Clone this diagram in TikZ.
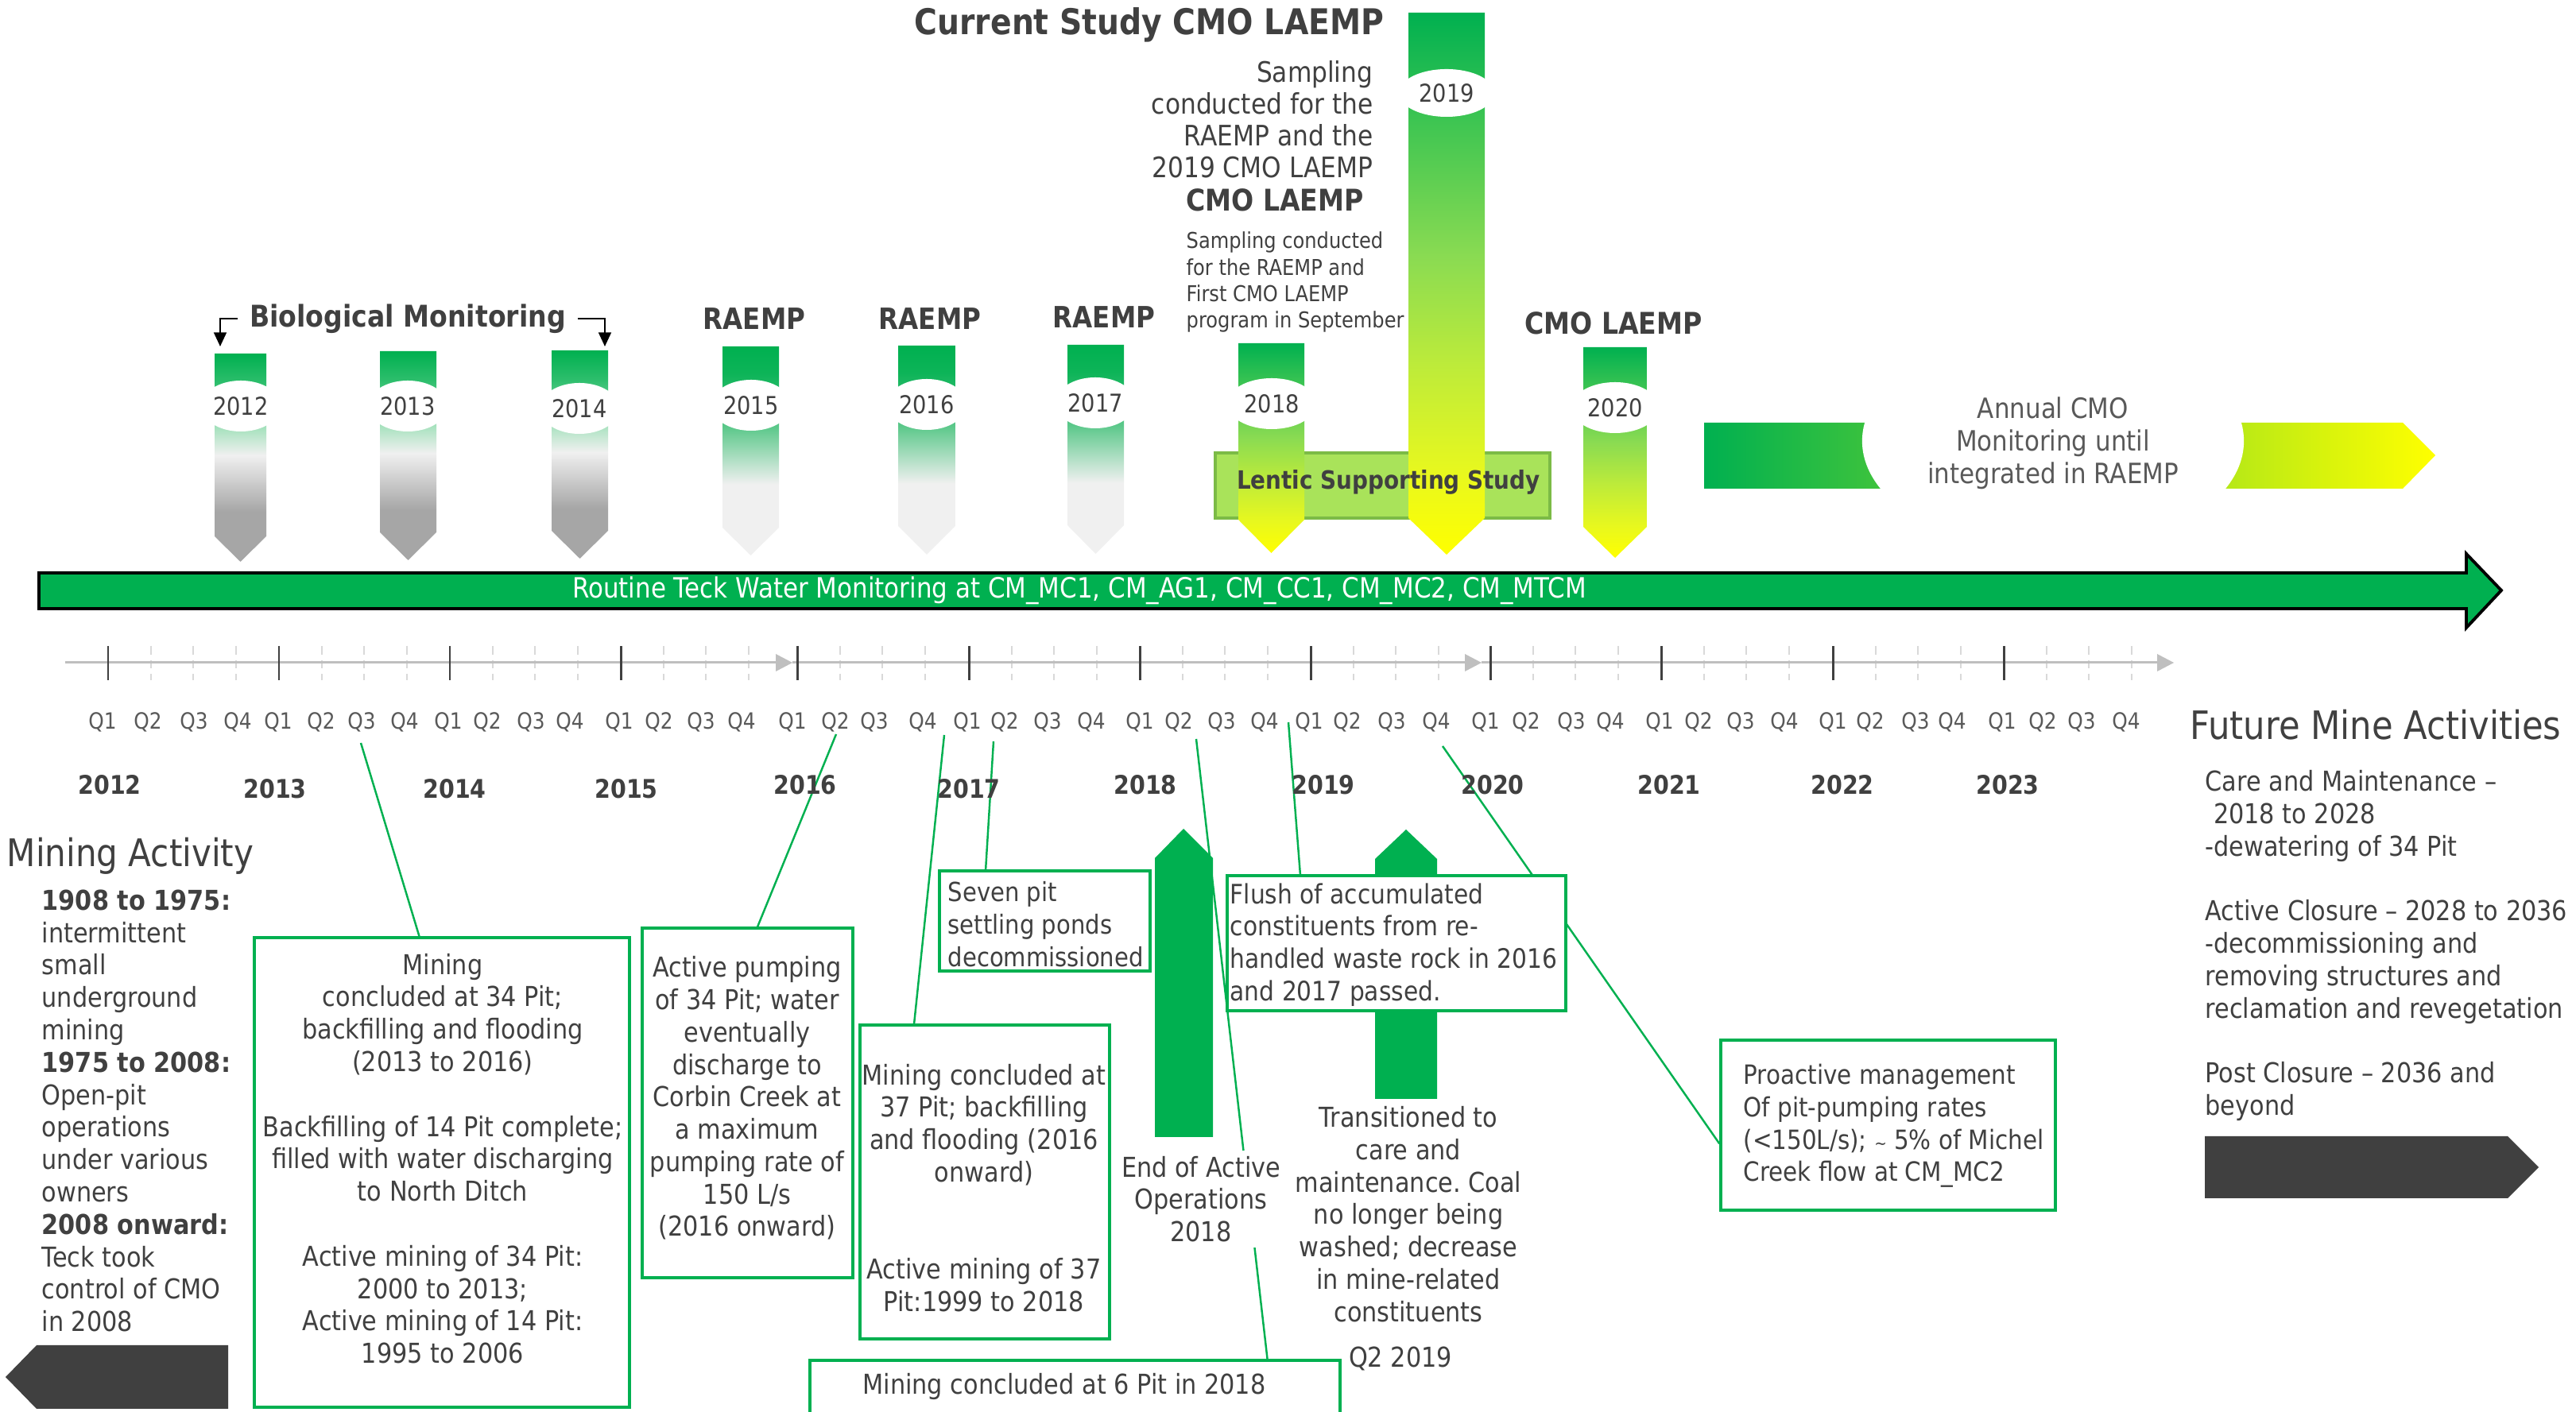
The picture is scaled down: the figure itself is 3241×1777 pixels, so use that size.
\documentclass[tikz,border=0pt]{standalone}
\usepackage{fontspec}
\setmainfont{DejaVu Sans}[FakeStretch=0.88]
\usetikzlibrary{arrows.meta,fit,calc,shapes.geometric}
\definecolor{tgreen}{HTML}{00B050}
\definecolor{dgray}{HTML}{404040}
\definecolor{qgray}{HTML}{595959}
\definecolor{lgray}{HTML}{BFBFBF}
\definecolor{mgray}{HTML}{D9D9D9}
\definecolor{lentic}{HTML}{A9E35A}
\definecolor{lenticb}{HTML}{7CBB46}
\definecolor{gA}{HTML}{A6A6A6}
\definecolor{gB}{HTML}{F0F0F0}
\definecolor{gC}{HTML}{A8E2BF}
\definecolor{gD}{HTML}{2DBE6C}
\definecolor{gE}{HTML}{00B050}
\definecolor{lC}{HTML}{5BC88A}
\definecolor{lD}{HTML}{0DB458}
\definecolor{yA}{HTML}{FFFF00}
\definecolor{yB}{HTML}{E8F81E}
\definecolor{yC}{HTML}{BDEB3A}
\definecolor{yD}{HTML}{8ADB52}
\definecolor{yE}{HTML}{3EC552}
\pgfdeclareverticalshading{pgray}{100bp}{color(0bp)=(gA); color(37bp)=(gA); color(50.6bp)=(gB); color(57bp)=(gC); color(68bp)=(gD); color(75bp)=(gE); color(100bp)=(gE)}
\pgfdeclareverticalshading{plite}{100bp}{color(0bp)=(gB); color(42bp)=(gB); color(55.8bp)=(lC); color(68.5bp)=(lD); color(75bp)=(gE); color(100bp)=(gE)}
\pgfdeclareverticalshading{pyel}{100bp}{color(0bp)=(yA); color(25bp)=(yA); color(32.5bp)=(yB); color(42.5bp)=(yC); color(52.5bp)=(yD); color(65bp)=(yE); color(75bp)=(gE); color(100bp)=(gE)}
\pgfdeclarelayer{back}
\pgfdeclarelayer{bg}
\pgfsetlayers{back,bg,main}
\frenchspacing
\newcommand\fsz[2]{\fontsize{#1}{#2}\selectfont}
\newcommand\pillar[6]{\shade[shading=#6] (#1,#3) -- (#2,#3) -- (#2,#4) -- ({(#1+#2)/2},#5) -- (#1,#4) -- cycle;}
\tikzset{
 tx/.style={inner sep=0pt, text=dgray},
 body/.style={tx, font=\fsz{9.8pt}{11.6pt}, align=center},
 bodyl/.style={tx, font=\fsz{9.8pt}{11.6pt}, align=left, anchor=west},
 hdr/.style={tx, font=\bfseries\fsz{10.5pt}{12pt}},
 gbox/.style={draw=tgreen, fill=white, line width=1pt, inner sep=0pt},
 conn/.style={draw=tgreen, line width=0.7pt},
 yrell/.style={ellipse, fill=white, inner sep=0pt, minimum width=1.0cm, minimum height=0.64cm, text=dgray, font=\fsz{8.8pt}{10pt}},
 qlab/.style={inner sep=0pt, text=qgray, font=\fsz{8pt}{9pt}},
 yrlab/.style={tx, font=\bfseries\fsz{9.2pt}{10pt}},
 darrow/.style={fill=dgray},
 uparrow/.style={fill=tgreen},
 brk/.style={draw=black, line width=0.6pt, -{Triangle[length=5pt,width=4.5pt]}},
}
\begin{document}
\begin{tikzpicture}[x=0.01cm,y=-0.01cm]
\useasboundingbox (0,0) rectangle (3241,1777);
\begin{pgfonlayer}{back}
\fill[white] (0,0) rectangle (3241,1777);
\end{pgfonlayer}

% Lentic box (behind pillars)
\node[fit={(1529,570) (1950,652)}, inner sep=0pt, draw=lenticb, fill=lentic, line width=1pt] (lentic) {};

% pillars
\pillar{270}{335}{445}{675}{707}{pgray}
\pillar{478}{549}{442}{670}{705}{pgray}
\pillar{694}{765}{441}{668}{703}{pgray}
\pillar{909}{980}{436}{664}{699}{plite}
\pillar{1130}{1202}{435}{662}{698}{plite}
\pillar{1343}{1414}{434}{661}{697}{plite}
\pillar{1558}{1641}{432}{654}{696}{pyel}
\pillar{1772}{1868}{16}{652}{698}{pyel}
\pillar{1992}{2072}{437}{663}{702}{pyel}

\node[yrell] (y2012) at (303,511) {2012};
\node[yrell] (y2013) at (513,511) {2013};
\node[yrell] (y2014) at (729,514) {2014};
\node[yrell] (y2015) at (945,510) {2015};
\node[yrell] (y2016) at (1166,509) {2016};
\node[yrell] (y2017) at (1378,507) {2017};
\node[yrell, minimum width=1.12cm] (y2018) at (1600,508) {2018};
\node[yrell, minimum width=1.2cm, minimum height=0.6cm] (y2019) at (1820,117) {2019};
\node[yrell, minimum width=1.1cm] (y2020) at (2032,513) {2020};

\node[tx, font=\bfseries\fsz{9pt}{11pt}] (lentxt) at (1747,607) {Lentic Supporting Study};

% headings above
\node[tx, font=\bfseries\fsz{12.7pt}{14pt}] (title) at (1446,31) {Current Study CMO LAEMP};
\node[tx, font=\fsz{10.1pt}{11.4pt}, align=right, anchor=east] (samp19) at (1728,150) {Sampling\\conducted for the\\RAEMP and the\\2019 CMO LAEMP};
\node[tx, font=\bfseries\fsz{10.7pt}{12pt}] (cmo18) at (1604,252) {CMO LAEMP};
\node[tx, font=\fsz{7.8pt}{9.4pt}, align=left, anchor=west] (samp18) at (1492,355) {Sampling conducted\\for the RAEMP and\\First CMO LAEMP\\program in September};
\node[tx, font=\bfseries\fsz{10.7pt}{12pt}, inner xsep=4pt] (bio) at (513,401) {Biological Monitoring};
\coordinate (bioL) at (277,436);
\coordinate (bioR) at (761,436);
\draw[brk] (bio.west) -| (bioL);
\draw[brk] (bio.east) -| (bioR);
\node[hdr] (ra15) at (949,401) {RAEMP};
\node[hdr] (ra16) at (1170,401) {RAEMP};
\node[hdr] (ra17) at (1389,399) {RAEMP};
\node[tx, font=\bfseries\fsz{10.7pt}{12pt}] (cmo20) at (2030,407) {CMO LAEMP};

% annual bar
\shade[left color=tgreen, right color=yellow] (2144,532) -- (3023,532) -- (3064,573) -- (3023,615) -- (2144,615) -- cycle;
\begin{scope}
\clip (2144,532) rectangle (3064,615);
\node[ellipse, fill=white, minimum width=4.8cm, minimum height=2.8cm, inner sep=0pt] (annell) at (2583,555) {};
\end{scope}
\node[tx, text=qgray, font=\fsz{10pt}{11.7pt}, align=center] (annual) at (2583,558) {Annual CMO\\Monitoring until\\integrated in RAEMP};

% main arrow
\filldraw[fill=tgreen, draw=black, line width=1.1pt] (49,721) -- (3103,721) -- (3103,697) -- (3147,743) -- (3103,790) -- (3103,766) -- (49,766) -- cycle;
\node[inner sep=0pt, text=white, font=\fsz{10pt}{11pt}] (routine) at (1358,743) {Routine Teck Water Monitoring at CM\_MC1, CM\_AG1, CM\_CC1, CM\_MC2, CM\_MTCM};

% timeline
\foreach \x in {136,351,566,781,1003,1219,1434,1649,1875,2090,2306,2521}
  \foreach \k in {1,2,3}
    \draw[mgray, line width=0.6pt, dash pattern=on 3pt off 2pt] ({\x+53.7*\k},813) -- ({\x+53.7*\k},856);
\draw[lgray, line width=0.85pt] (82,834) -- (980,834);
\fill[lgray] (976,823) -- (997,834) -- (976,845) -- cycle;
\draw[lgray, line width=0.85pt] (997,834) -- (1846,834);
\fill[lgray] (1843,823) -- (1864,834) -- (1843,845) -- cycle;
\draw[lgray, line width=0.85pt] (1864,834) -- (2717,834);
\fill[lgray] (2714,823) -- (2735,834) -- (2714,845) -- cycle;
\foreach \x in {136,351,566,781,1003,1219,1434,1649,1875,2090,2306,2521}
  \draw[dgray, line width=0.85pt] (\x,813) -- (\x,856);

\foreach \x [count=\i] in {129,186,244,299, 350,404,455,509, 564,613,668,717, 779,829,882,933, 997,1051,1100,1161, 1217,1264,1318,1373, 1434,1483,1537,1591, 1647,1695,1751,1807, 1869,1920,1977,2026, 2088,2137,2190,2245, 2306,2353,2410,2456, 2519,2570,2619,2675}
  {\pgfmathtruncatemacro\qn{mod(\i-1,4)+1}
   \node[qlab] (q\i) at (\x,909) {Q\qn};}
\foreach \x/\y/\t in {138/988/2012, 346/993/2013, 572/993/2014, 788/993/2015, 1013/988/2016, 1219/993/2017, 1441/988/2018, 1665/988/2019, 1878/988/2020, 2100/988/2021, 2318/988/2022, 2526/988/2023}
  \node[yrlab] (yr\t) at (\x,\y) {\t};

% green up arrows
\fill[uparrow] (1453,1431) -- (1453,1080) -- (1489,1043) -- (1526,1080) -- (1526,1431) -- cycle;
\fill[uparrow] (1730,1383) -- (1730,1081) -- (1769,1044) -- (1808,1081) -- (1808,1383) -- cycle;

% boxes
\node[gbox, fit={(320,1180) (792,1771)}] (box1) {};
\node[gbox, fit={(808,1168) (1073,1608)}] (box2) {};
\node[gbox, fit={(1082,1290) (1396,1685)}] (box3) {};
\node[gbox, fit={(1182,1096) (1447,1222)}] (box4) {};
\node[gbox, fit={(1019,1712) (1686,1795)}] (box5) {};
\node[gbox, fit={(1544,1102) (1970,1272)}] (box6) {};
\node[gbox, fit={(2165,1309) (2586,1523)}] (box7) {};

\node[body] (b1t) at (557,1458) {Mining\\concluded at 34 Pit;\\backfilling and flooding\\(2013 to 2016)\\[11.6pt]Backfilling of 14 Pit complete;\\filled with water discharging\\to North Ditch\\[11.6pt]Active mining of 34 Pit:\\2000 to 2013;\\Active mining of 14 Pit:\\1995 to 2006};
\node[body] (b2t) at (940,1382) {Active pumping\\of 34 Pit; water\\eventually\\discharge to\\Corbin Creek at\\a maximum\\pumping rate of\\150 L/s\\(2016 onward)};
\node[body] (b3t) at (1238,1495) {Mining concluded at\\37 Pit; backfilling\\and flooding (2016\\onward)\\[23.2pt]Active mining of 37\\Pit:1999 to 2018};
\node[bodyl, font=\fsz{9.4pt}{11.6pt}] (b4t) at (1192,1163) {Seven pit\\settling ponds\\decommissioned};
\node[body] (b5t) at (1339,1745) {Mining concluded at 6 Pit in 2018};
\node[body, fill=white, inner ysep=2pt] (endt) at (1511,1509) {End of Active\\Operations\\2018};
\node[bodyl, font=\fsz{9.6pt}{11.6pt}] (b6t) at (1547,1189) {Flush of accumulated\\constituents from re-\\handled waste rock in 2016\\and 2017 passed.};
\node[bodyl, font=\fsz{9.5pt}{11.6pt}] (b7t) at (2193,1417) {Proactive management\\Of pit-pumping rates\\(<150L/s); {\fsz{6pt}{6pt}\textasciitilde} 5\% of Michel\\Creek flow at CM\_MC2};
\node[body] (trans) at (1772,1528) {Transitioned to\\care and\\maintenance. Coal\\no longer being\\washed; decrease\\in mine-related\\constituents};
\node[body] (q219) at (1762,1710) {Q2 2019};

% connectors
\coordinate (t1) at (454,935);
\coordinate (t2) at (1052,924);
\coordinate (t3) at (1188,925);
\coordinate (t4) at (1250,933);
\coordinate (t5) at (1505,930);
\coordinate (t6) at (1621,909);
\coordinate (t7) at (1815,939);
\begin{pgfonlayer}{bg}
\draw[conn] (t1) -- ($(box1.north west)!0.44!(box1.north east)$);
\draw[conn] (t2) -- ($(box2.north west)!0.547!(box2.north east)$);
\draw[conn] (t3) -- ($(box3.north west)!0.22!(box3.north east)$);
\draw[conn] (t4) -- ($(box4.north west)!0.223!(box4.north east)$);
\draw[conn] (t5) -- ($(box5.north west)!0.861!(box5.north east)$);
\draw[conn] (t6) -- ($(box6.north west)!0.218!(box6.north east)$);
\draw[conn] (t7) -- ($(box7.north west)!0.607!(box7.south west)$);
\end{pgfonlayer}

% left side
\node[tx, font=\fsz{13.6pt}{15pt}, anchor=west] (minact) at (8,1077) {Mining Activity};
\node[bodyl] (minhist) at (52,1398) {\textbf{1908 to 1975:}\\intermittent\\small\\underground\\mining\\\textbf{1975 to 2008:}\\Open-pit\\operations\\under various\\owners\\\textbf{2008 onward:}\\Teck took\\control of CMO\\in 2008};
\fill[darrow] (287,1693) -- (46,1693) -- (7,1733) -- (46,1773) -- (287,1773) -- cycle;

% right side
\node[tx, font=\fsz{14pt}{16pt}, anchor=west] (future) at (2755,912) {Future Mine Activities};
\node[bodyl] (futtxt) at (2774,1190) {Care and Maintenance --\\\hspace*{0.3em}2018 to 2028\\-dewatering of 34 Pit\\[11.6pt]Active Closure -- 2028 to 2036\\-decommissioning and\\removing structures and\\reclamation and revegetation\\[11.6pt]Post Closure -- 2036 and\\beyond};
\fill[darrow] (2774,1430) -- (3155,1430) -- (3194,1469) -- (3155,1508) -- (2774,1508) -- cycle;
\end{tikzpicture}
\end{document}
